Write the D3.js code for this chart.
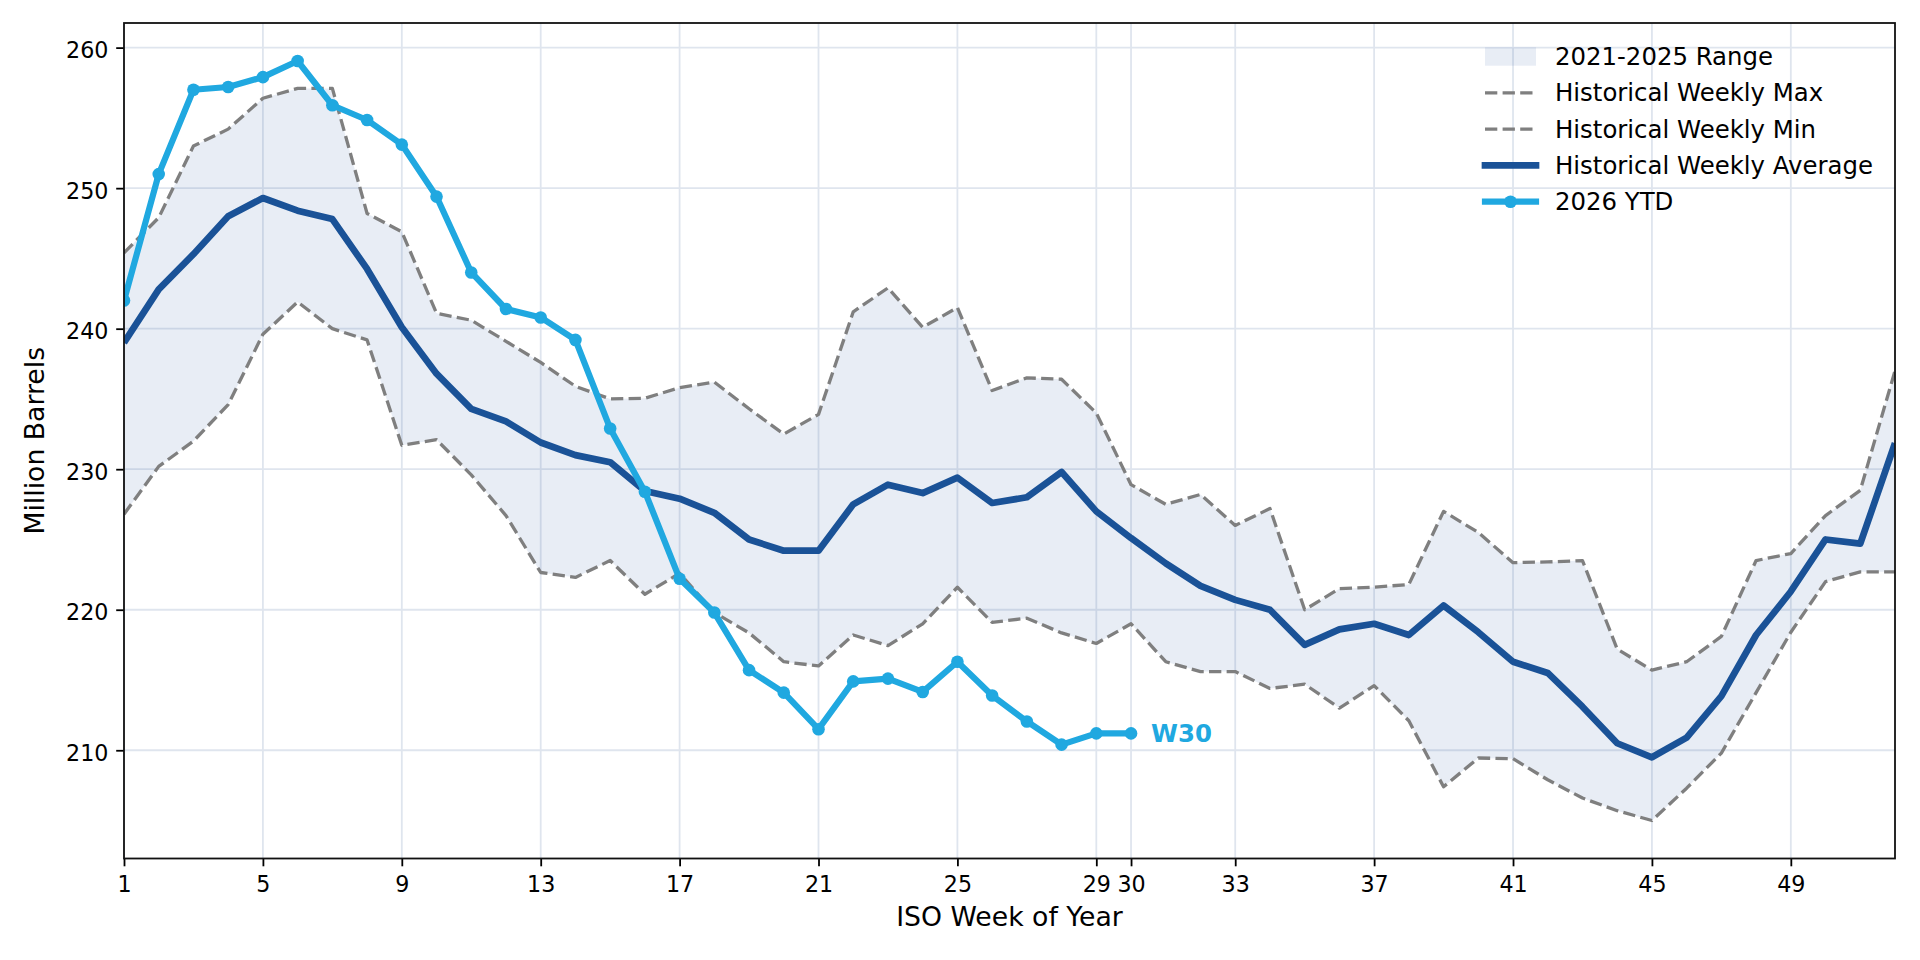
<!DOCTYPE html>
<html>
<head>
<meta charset="utf-8">
<script src="https://cdn.jsdelivr.net/npm/d3@7"></script>
<style>
  body { margin: 0; background: #fff; }
  text { font-family: "DejaVu Sans", sans-serif; fill: #000; }
</style>
</head>
<body>
<div class="graph_wrapper"></div>
<script>
// ISO weeks 1..52
var weeks = d3.range(1, 53);

var histMax = [245.4, 247.9, 253.0, 254.2, 256.4, 257.1, 257.1, 248.2, 246.9, 241.1,
  240.6, 239.1, 237.6, 235.9, 235.0, 235.05, 235.8, 236.2, 234.3, 232.5,
  233.9, 241.2, 242.9, 240.1, 241.5, 235.6, 236.5, 236.4, 234.0, 228.9,
  227.5, 228.2, 226.0, 227.2, 220.0, 221.5, 221.6, 221.8, 227.0, 225.5,
  223.35, 223.4, 223.5, 217.2, 215.7, 216.3, 218.1, 223.5, 224.0, 226.7,
  228.5, 237.0];

var histMin = [226.8, 230.2, 232.0, 234.6, 239.6, 241.9, 240.0, 239.2, 231.7, 232.1,
  229.6, 226.7, 222.65, 222.3, 223.5, 221.1, 222.6, 219.8, 218.35, 216.3,
  216.0, 218.2, 217.45, 219.0, 221.6, 219.1, 219.4, 218.35, 217.6, 219.0,
  216.3, 215.6, 215.6, 214.4, 214.7, 213.0, 214.6, 212.1, 207.4, 209.45,
  209.4, 207.9, 206.6, 205.7, 205.0, 207.3, 209.8, 214.1, 218.4, 222.0,
  222.7, 222.7];

var histAvg = [239.0, 242.8, 245.3, 248.0, 249.3, 248.4, 247.8, 244.25, 240.1, 236.8,
  234.3, 233.4, 231.9, 231.0, 230.5, 228.45, 227.9, 226.9, 225.0, 224.2,
  224.2, 227.5, 228.9, 228.3, 229.4, 227.6, 228.0, 229.8, 227.0, 225.1,
  223.3, 221.7, 220.7, 220.0, 217.5, 218.6, 219.0, 218.2, 220.3, 218.4,
  216.3, 215.5, 213.1, 210.5, 209.5, 210.9, 213.85, 218.2, 221.3, 225.0,
  224.7, 231.85];

// 2026 year to date, weeks 1..30
var ytd = [242.0, 251.0, 257.0, 257.2, 257.9, 259.05, 255.9, 254.85, 253.1, 249.4,
  244.0, 241.4, 240.8, 239.2, 232.9, 228.4, 222.2, 219.8, 215.7, 214.1,
  211.5, 214.9, 215.1, 214.15, 216.3, 213.9, 212.05, 210.4, 211.2, 211.2];

var xTicks = [1, 5, 9, 13, 17, 21, 25, 29, 30, 33, 37, 41, 45, 49];
var yTicks = [210, 220, 230, 240, 250, 260];

var legendLabels = ['2021-2025 Range', 'Historical Weekly Max', 'Historical Weekly Min',
  'Historical Weekly Average', '2026 YTD'];
var lastLabel = 'W30';

var width = 1920;
var height = 960;
var margin = { left: 124, right: 25, top: 23, bottom: 101.5 };
var innerW = width - margin.left - margin.right;
var innerH = height - margin.top - margin.bottom;

var avgColor = '#1a5297';
var ytdColor = '#20a8e0';
var dashColor = '#7f7f7f';
var gridColor = '#dfe5ee';

var svg = d3.select('.graph_wrapper').append('svg')
  .attr('width', width).attr('height', height)
  .style('display', 'block');

svg.append('rect').attr('width', width).attr('height', height).attr('fill', '#fff');

var g = svg.append('g').attr('transform', 'translate(' + margin.left + ',' + margin.top + ')');

var x = d3.scaleLinear().domain([1, 52]).range([0, innerW]);

var ext = d3.extent(histMax.concat(histMin, histAvg, ytd));
var pad = (ext[1] - ext[0]) * 0.05;
var y = d3.scaleLinear().domain([ext[0] - pad, ext[1] + pad]).range([innerH, 0]);

g.append('clipPath').attr('id', 'plotclip')
  .append('rect').attr('width', innerW).attr('height', innerH);

// grid
g.append('g').selectAll('line').data(xTicks).enter().append('line')
  .attr('x1', function (d) { return x(d); }).attr('x2', function (d) { return x(d); })
  .attr('y1', 0).attr('y2', innerH)
  .attr('stroke', gridColor).attr('stroke-width', 1.8);
g.append('g').selectAll('line').data(yTicks).enter().append('line')
  .attr('y1', function (d) { return y(d); }).attr('y2', function (d) { return y(d); })
  .attr('x1', 0).attr('x2', innerW)
  .attr('stroke', gridColor).attr('stroke-width', 1.8);

var plot = g.append('g').attr('clip-path', 'url(#plotclip)');

var area = d3.area()
  .x(function (d, i) { return x(weeks[i]); })
  .y0(function (d, i) { return y(histMin[i]); })
  .y1(function (d, i) { return y(histMax[i]); });

plot.append('path').datum(weeks).attr('d', area)
  .attr('fill', '#1f4e99').attr('fill-opacity', 0.1);

var line = d3.line()
  .x(function (d, i) { return x(weeks[i]); })
  .y(function (d) { return y(d); });

[histMax, histMin].forEach(function (s) {
  plot.append('path').datum(s).attr('d', line)
    .attr('fill', 'none').attr('stroke', dashColor).attr('stroke-width', 3.3)
    .attr('stroke-dasharray', '12.3,5.3').attr('stroke-linejoin', 'round');
});

plot.append('path').datum(histAvg).attr('d', line)
  .attr('fill', 'none').attr('stroke', avgColor).attr('stroke-width', 6.7)
  .attr('stroke-linejoin', 'round');

plot.append('path').datum(ytd).attr('d', line)
  .attr('fill', 'none').attr('stroke', ytdColor).attr('stroke-width', 6.2)
  .attr('stroke-linejoin', 'round');

plot.selectAll('.ytdpt').data(ytd).enter().append('circle')
  .attr('class', 'ytdpt')
  .attr('cx', function (d, i) { return x(weeks[i]); })
  .attr('cy', function (d) { return y(d); })
  .attr('r', 6.3).attr('fill', ytdColor);

// last point label
var li = ytd.length - 1;
g.append('text')
  .attr('x', x(weeks[li]) + 20).attr('y', y(ytd[li]) + 8.5)
  .attr('font-size', '24.4px').attr('font-weight', 'bold')
  .style('fill', ytdColor)
  .text(lastLabel);

// axes
var xAxis = d3.axisBottom(x).tickValues(xTicks).tickSize(7.8).tickPadding(8).tickFormat(d3.format('d'));
var yAxis = d3.axisLeft(y).tickValues(yTicks).tickSize(7.8).tickPadding(7.8).tickFormat(d3.format('d'));

var xg = g.append('g').attr('transform', 'translate(0,' + innerH + ')').call(xAxis);
var yg = g.append('g').call(yAxis);

[xg, yg].forEach(function (a) {
  a.select('.domain').remove();
  a.selectAll('.tick line').attr('stroke', '#000').attr('stroke-width', 1.8);
  a.selectAll('.tick text').attr('font-size', '22.2px').attr('font-family', 'DejaVu Sans').style('fill', '#000');
});
xg.selectAll('.tick text').attr('dy', null).attr('y', 33.5);
yg.selectAll('.tick text').attr('dy', null).attr('y', 10);

// frame
g.append('rect').attr('width', innerW).attr('height', innerH)
  .attr('fill', 'none').attr('stroke', '#111').attr('stroke-width', 1.8);

// axis labels
svg.append('text')
  .attr('x', margin.left + innerW / 2).attr('y', 925.5)
  .attr('text-anchor', 'middle').attr('font-size', '26.7px')
  .text('ISO Week of Year');
svg.append('text')
  .attr('transform', 'translate(44,' + (margin.top + innerH / 2) + ') rotate(-90)')
  .attr('text-anchor', 'middle').attr('font-size', '26.7px')
  .text('Million Barrels');

// legend
var legendX = 1485;
var legendY = 56.5;
var legendStep = 36.3;
var legend = svg.selectAll('.legend').data(legendLabels).enter().append('g')
  .attr('class', 'legend')
  .attr('transform', function (d, i) { return 'translate(' + legendX + ',' + (legendY + i * legendStep) + ')'; });

legend.each(function (d, i) {
  var lg = d3.select(this);
  if (i === 0) {
    lg.append('rect').attr('x', 0).attr('y', -9.2).attr('width', 51).attr('height', 18.4)
      .attr('fill', '#1f4e99').attr('fill-opacity', 0.1);
  } else if (i === 1 || i === 2) {
    lg.append('line').attr('x1', 0).attr('x2', 51).attr('y1', 0).attr('y2', 0)
      .attr('stroke', dashColor).attr('stroke-width', 3.3).attr('stroke-dasharray', '12.3,5.3');
  } else if (i === 3) {
    lg.append('line').attr('x1', 0).attr('x2', 51).attr('y1', 0).attr('y2', 0)
      .attr('stroke', avgColor).attr('stroke-width', 6.7).attr('stroke-linecap', 'square');
  } else {
    lg.append('line').attr('x1', 0).attr('x2', 51).attr('y1', 0).attr('y2', 0)
      .attr('stroke', ytdColor).attr('stroke-width', 6.2).attr('stroke-linecap', 'square');
    lg.append('circle').attr('cx', 25.5).attr('cy', 0).attr('r', 6.3).attr('fill', ytdColor);
  }
  lg.append('text').attr('x', 70).attr('y', 8.5).attr('font-size', '24.4px').text(d);
});
</script>
</body>
</html>
